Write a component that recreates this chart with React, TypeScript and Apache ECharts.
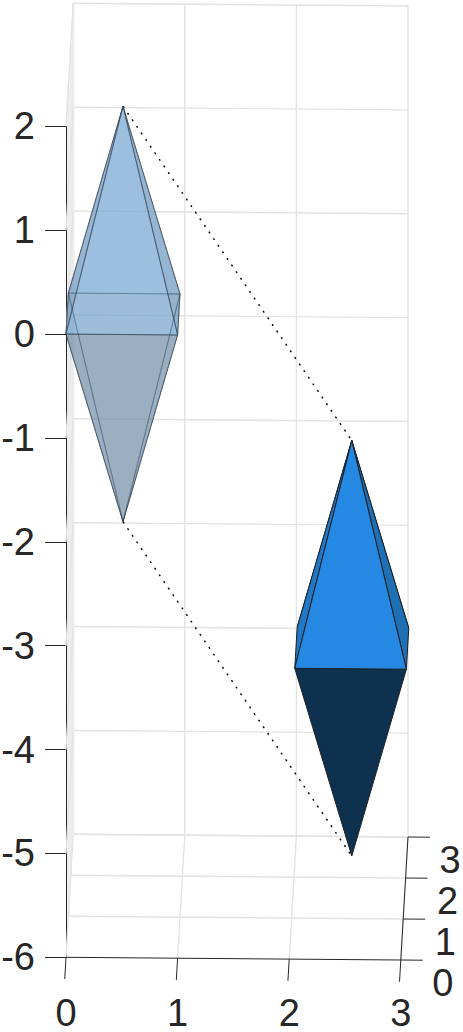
import React, { useEffect, useRef } from "react";
import * as echarts from "echarts";

type P3 = number[];

// --- data (x, y, z in the plot's own units) ---
const xTicks = [0, 1, 2, 3];
const yTicks = [-6, -5, -4, -3, -2, -1, 0, 1, 2];
const zTicks = [0, 1, 2, 3];

const leftCorners: P3[] = [[0, 0, 0], [1, 0, 0], [1, 0, 1], [0, 0, 1]];
const leftTop: P3 = [0.5, 2, 0.5];
const leftBottom: P3 = [0.5, -2, 0.5];

const rightCorners: P3[] = [[2.05, -3.2, 0], [3.05, -3.2, 0], [3.05, -3.2, 1], [2.05, -3.2, 1]];
const rightTop: P3 = [2.55, -1.2, 0.5];
const rightBottom: P3 = [2.55, -5.2, 0.5];

// the fixed view of the 3D box, as shear factors onto the x / y axes
const Z_TO_X = 0.0215;
const Z_TO_Y = 0.3947;
const X_TO_Y = -0.0087;
const project = (p: P3): number[] => [p[0] + p[2] * Z_TO_X, p[1] + p[2] * Z_TO_Y + p[0] * X_TO_Y];

const FONT = "'Liberation Sans', Arial, sans-serif";
const INK = "#262626";
const GRID = "#e3e3e3";

type Seg = [P3, P3];

function lineSeries(name: string, segs: Seg[], style: any) {
  return {
    type: "custom",
    name,
    silent: true,
    clip: false,
    data: segs.map((_, i) => i),
    renderItem: (params: any, api: any) => {
      const [a, b] = segs[params.dataIndex];
      const p1 = api.coord(project(a));
      const p2 = api.coord(project(b));
      return {
        type: "line",
        shape: { x1: p1[0], y1: p1[1], x2: p2[0], y2: p2[1] },
        style: { fill: null, ...style },
      };
    },
  };
}

type Face = { pts: P3[]; fill: string; stroke: string; width: number };

function faceSeries(name: string, faces: Face[]) {
  return {
    type: "custom",
    name,
    silent: true,
    clip: false,
    data: faces.map((_, i) => i),
    renderItem: (params: any, api: any) => {
      const f = faces[params.dataIndex];
      return {
        type: "polygon",
        shape: { points: f.pts.map((p) => api.coord(project(p))) },
        style: { fill: f.fill, stroke: f.stroke, lineWidth: f.width, lineJoin: "round" },
      };
    },
  };
}

const wallSegs: Seg[] = zTicks.slice(1).map((z): Seg => [[0, -6, z], [0, 2, z]]);

const gridSegs: Seg[] = [
  ...yTicks.map((y): Seg => [[0, y, 3], [3, y, 3]]),
  ...yTicks.map((y): Seg => [[0, y, 0], [0, y, 3]]),
  ...xTicks.slice(1).map((x): Seg => [[x, -6, 3], [x, 2, 3]]),
  ...xTicks.slice(1).map((x): Seg => [[x, -6, 0], [x, -6, 3]]),
  ...zTicks.slice(1).map((z): Seg => [[0, -6, z], [3, -6, z]]),
];

const axisSegs: Seg[] = [
  [[0, -6, 0], [3, -6, 0]],
  [[3, -6, 0], [3, -6, 3]],
  ...xTicks.map((x): Seg => [[x, -6, 0], [x, -6, -0.53]]),
  ...zTicks.map((z): Seg => [[3, -6, z], [3.197, -6, z]]),
];

const dottedSegs: Seg[] = [
  [leftTop, rightTop],
  [leftBottom, rightBottom],
];

const [lf, lr, lbr, lbl] = leftCorners;
const LE = "rgba(50,62,75,0.66)";
const LW = 0.9;
const leftFaces: Face[] = [
  { pts: [lbl, lbr, leftBottom], fill: "rgba(110,130,150,0.42)", stroke: LE, width: LW },
  { pts: [lf, lbl, leftBottom], fill: "rgba(88,118,148,0.4)", stroke: LE, width: LW },
  { pts: [lr, lbr, leftBottom], fill: "rgba(88,118,148,0.4)", stroke: LE, width: LW },
  { pts: [lbl, lbr, leftTop], fill: "rgba(130,160,190,0.5)", stroke: LE, width: LW },
  { pts: [lf, lbl, leftTop], fill: "rgba(100,148,195,0.45)", stroke: LE, width: LW },
  { pts: [lr, lbr, leftTop], fill: "rgba(100,148,195,0.45)", stroke: LE, width: LW },
  { pts: [lf, lr, leftBottom], fill: "rgba(118,148,174,0.5)", stroke: LE, width: LW },
  { pts: [lf, lr, leftTop], fill: "rgba(120,175,225,0.5)", stroke: LE, width: LW },
];

const [rf, rr, rbr, rbl] = rightCorners;
const RE = "#1a1f24";
const RW = 1;
const rightFaces: Face[] = [
  { pts: [rbl, rbr, rightTop], fill: "#1f6fb4", stroke: RE, width: RW },
  { pts: [rf, rbl, rightTop], fill: "#2178c4", stroke: RE, width: RW },
  { pts: [rr, rbr, rightTop], fill: "#1e6fb3", stroke: RE, width: RW },
  { pts: [rf, rr, rightBottom], fill: "#0f3150", stroke: RE, width: RW },
  { pts: [rf, rr, rightTop], fill: "#2588e2", stroke: RE, width: RW },
];

const zLabelSeries = {
  type: "custom",
  name: "z labels",
  silent: true,
  clip: false,
  data: zTicks.map((z) => z),
  renderItem: (params: any, api: any) => {
    const z = zTicks[params.dataIndex];
    const p = api.coord(project([3, -6, z]));
    return {
      type: "text",
      x: p[0] + 42,
      y: p[1] + 23,
      style: {
        text: String(z),
        font: `38px ${FONT}`,
        fill: INK,
        align: "center",
        verticalAlign: "middle",
      },
    };
  },
};

export default function App() {
  const ref = useRef<HTMLDivElement>(null);
  useEffect(() => {
    document.documentElement.style.margin = "0";
    document.documentElement.style.overflow = "hidden";
    document.body.style.margin = "0";
    document.body.style.overflow = "hidden";
    const chart = echarts.init(ref.current!, undefined, { renderer: "svg" });
    chart.setOption({
      animation: false,
      backgroundColor: "#ffffff",
      tooltip: { show: false },
      grid: {
        left: 66,
        right: 463 - 66 - 334.8,
        top: 126.3,
        bottom: 74.7,
        containLabel: false,
        outerBoundsMode: "none",
      },
      xAxis: {
        type: "value",
        min: 0,
        max: 3,
        interval: 1,
        splitLine: { show: false },
        axisLine: { show: false },
        axisTick: { show: false },
        axisLabel: {
          margin: 41.5,
          color: INK,
          fontFamily: FONT,
          fontSize: 38,
          lineHeight: 28,
          showMinLabel: true,
          showMaxLabel: true,
          hideOverlap: false,
        },
      },
      yAxis: {
        type: "value",
        min: -6,
        max: 2,
        interval: 1,
        splitLine: { show: false },
        axisLine: { show: true, onZero: false, lineStyle: { color: INK, width: 1 } },
        axisTick: { show: true, length: 21, lineStyle: { color: INK, width: 1 } },
        axisLabel: {
          margin: 31,
          color: INK,
          fontFamily: FONT,
          fontSize: 38,
          padding: [4, 0, 0, 0],
          showMinLabel: true,
          showMaxLabel: true,
          hideOverlap: false,
        },
      },
      series: [
        lineSeries("left wall", wallSegs, { stroke: "#ececec", lineWidth: 2.4 }),
        lineSeries("grid", gridSegs, { stroke: GRID, lineWidth: 1.4 }),
        lineSeries("axes", axisSegs, { stroke: INK, lineWidth: 1 }),
        lineSeries("links", dottedSegs, { stroke: "#000000", lineWidth: 1.4, lineDash: [2, 6] }),
        faceSeries("left solid", leftFaces),
        faceSeries("right solid", rightFaces),
        zLabelSeries,
      ],
    });
    return () => chart.dispose();
  }, []);
  return (
    <div
      ref={ref}
      style={{ width: 463, height: 1032, background: "#fff" }}
    />
  );
}
